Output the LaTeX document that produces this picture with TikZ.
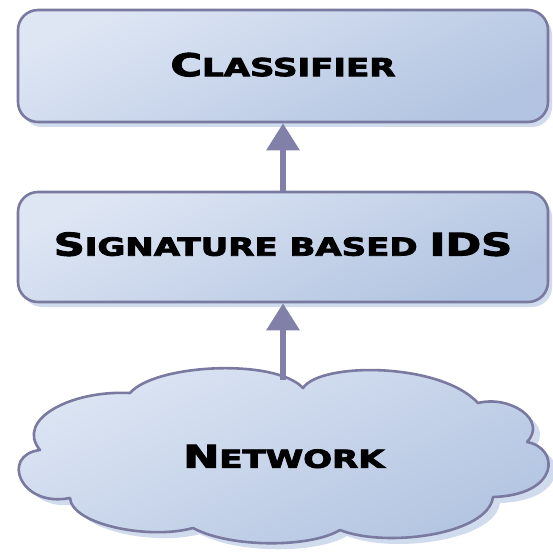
\documentclass[tikz,border=0pt]{standalone}
\usepackage{graphicx}
\usepackage{fontspec}
\setmainfont[BoldFeatures={FakeBold=3}]{DejaVu Sans}
\usetikzlibrary{arrows.meta,shadows}

\definecolor{edgegray}{RGB}{122,122,160}
\definecolor{fillhi}{RGB}{222,230,244}
\definecolor{filllo}{RGB}{178,196,225}
\definecolor{shadowblue}{RGB}{208,219,238}
\definecolor{arrowgray}{RGB}{128,128,168}

% fake small caps: large initial capitals, smaller remaining capitals
\newcommand\capbig[1]{{\fontsize{43}{46}\selectfont #1}}
\newcommand\capsmall[1]{{\fontsize{34}{38}\selectfont #1}}
% wide, low lettering
\newcommand\widetext[1]{\scalebox{1}[0.73]{#1}}

% outline of the network cloud
\newcommand\cloudoutline{%
  (130,393) .. controls (155,364) and (275,358) .. (303,388)
  .. controls (320,362) and (440,362) .. (478,403)
  .. controls (510,395) and (548,420) .. (527,442)
  .. controls (560,448) and (560,495) .. (493,497)
  .. controls (488,535) and (385,548) .. (340,530)
  .. controls (310,548) and (230,548) .. (193,528)
  .. controls (150,540) and (72,525) .. (70,498)
  .. controls (20,508) and (0,455) .. (40,450)
  .. controls (15,420) and (70,390) .. (130,393) -- cycle}

\tikzset{
  layerbox/.style={rectangle, rounded corners=20pt, draw=edgegray, line width=2.6pt,
    top color=fillhi, bottom color=filllo, shading angle=25,
    drop shadow={shadow xshift=4pt, shadow yshift=-5pt, fill=shadowblue, opacity=1},
    minimum width=530pt, font=\bfseries, text=black},
  cloudfill/.style={draw=edgegray, line width=2.6pt, line join=round,
    top color=fillhi, bottom color=filllo, shading angle=25},
  labeltext/.style={font=\bfseries, text=black},
  uparrow/.style={draw=arrowgray, line width=6pt,
    -{Triangle[width=32pt, length=27pt, fill=arrowgray]}}
}

\begin{document}
\begin{tikzpicture}[x=1pt, y=-1pt]
  \useasboundingbox (0,0) rectangle (553,556);

  \node[layerbox, minimum height=112pt, text depth=3pt] (cls) at (283,66)
    {\widetext{\capbig{C}\capsmall{LASSIFIER}}};
  \node[layerbox, minimum height=110pt, text depth=6pt] (ids) at (283,247)
    {\widetext{\capbig{S}\capsmall{IGNATURE BASED }\capbig{IDS}}};

  % cloud with its shadow
  \fill[shadowblue, shift={(7pt,-6pt)}] \cloudoutline;
  \path[cloudfill] \cloudoutline;
  \node[labeltext] (net) at (284,456.5) {\widetext{\capbig{N}\capsmall{ETWORK}}};
  \coordinate (nettop) at (283,380);

  \draw[uparrow] (ids.north) -- (cls.south);
  \draw[uparrow] (nettop) -- (ids.south);
\end{tikzpicture}
\end{document}
